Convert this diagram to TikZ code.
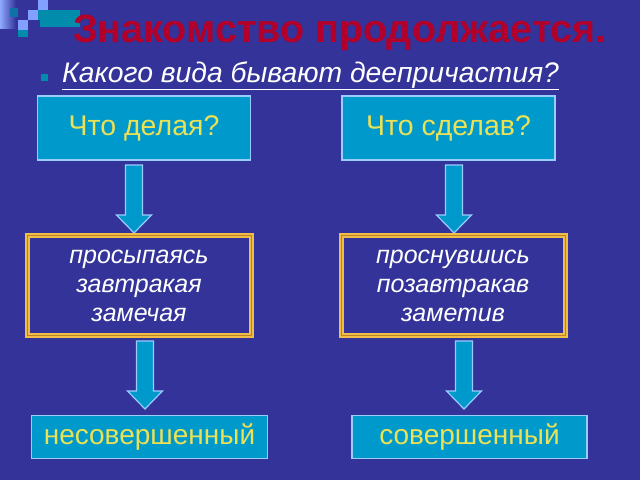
\documentclass[tikz,border=0pt]{standalone}
\usepackage{fontspec}
\setmainfont{Liberation Sans}
\begin{document}
\definecolor{bgblue}{RGB}{51,51,153}
\definecolor{boxfill}{RGB}{0,153,204}
\definecolor{boxline}{RGB}{153,204,255}
\definecolor{ytext}{RGB}{235,225,85}
\definecolor{titlered}{RGB}{178,0,42}
\definecolor{gold}{RGB}{240,190,70}
\definecolor{darkgold}{RGB}{190,130,40}
\definecolor{teal}{RGB}{0,140,170}
\definecolor{lightsq}{RGB}{130,160,255}
\tikzset{
  qbox/.style={draw=boxline, fill=boxfill, line width=1.5pt, minimum width=213, minimum height=64,
    text=ytext, font=\fontsize{28.5}{30}\selectfont, inner sep=0pt},
  abox/.style={draw=boxline, fill=boxfill, line width=1.5pt, minimum height=43,
    text=ytext, font=\fontsize{28}{30}\selectfont, inner sep=0pt},
  mbox/.style={draw=gold, line width=5pt, minimum width=224, minimum height=100, inner sep=0pt,
    text=white, align=center, font=\itshape\fontsize{25}{29}\selectfont,
    postaction={draw=darkgold, line width=0.8pt}},
  fatarrow/.style={draw=boxline, fill=boxfill, line width=1.2pt, line join=miter},
}
\begin{tikzpicture}[x=1pt,y=-1pt]
\fill[bgblue] (0,0) rectangle (640,480);
\useasboundingbox (0,0) rectangle (640,480);
% corner decoration
\shade[left color=lightsq!90!white, right color=bgblue] (0,0) rectangle (16,28);
\fill[teal] (40,10) rectangle (80,27);
\fill[teal!70!bgblue] (10,8) rectangle (18,17);
\fill[lightsq] (38,0) rectangle (48,10);
\fill[lightsq] (28,10) rectangle (38,20);
\fill[teal] (38,10) rectangle (48,20);
\fill[lightsq] (18,20) rectangle (28,30);
\fill[teal] (18,30) rectangle (28,37);
% title
\node[anchor=base, text=titlered, font=\bfseries\fontsize{39.5}{41}\selectfont, inner sep=0pt] (title) at (340,42) {Знакомство продолжается.};
% bullet and subtitle
\node[fill=teal, minimum size=7, inner sep=0pt] (bullet) at (44,77) {};
\node[anchor=base west, text=white, font=\itshape\fontsize{28.3}{30}\selectfont, inner sep=0pt] (sub) at (62,82) {\underline{Какого вида бывают деепричастия?}};
% question boxes
\node[qbox] (q1) at (144,128) {Что делая?};
\node[qbox] (q2) at (448.5,128) {Что сделав?};
% middle boxes
\node[mbox] (m1) at (139,285.5) {просыпаясь\\завтракая\\замечая};
\node[mbox] (m2) at (453,285.5) {проснувшись\\позавтракав\\заметив};
% answer boxes
\node[abox, minimum width=236] (b1) at (149.5,437) {несовершенный};
\node[abox, minimum width=235] (b2) at (469.5,437) {совершенный};
% arrow anchor coordinates
\coordinate (t1) at (134,165);
\coordinate (t2) at (454,165);
\coordinate (t3) at (145,341);
\coordinate (t4) at (464,341);
\foreach \c in {t1,t2,t3,t4}{
  \draw[fatarrow] (\c) ++(-8.5,0) -- ++(17,0) -- ++(0,50) -- ++(9,0) -- ++(-17.5,18) -- ++(-17.5,-18) -- ++(9,0) -- cycle;
}
\end{tikzpicture}
\end{document}
